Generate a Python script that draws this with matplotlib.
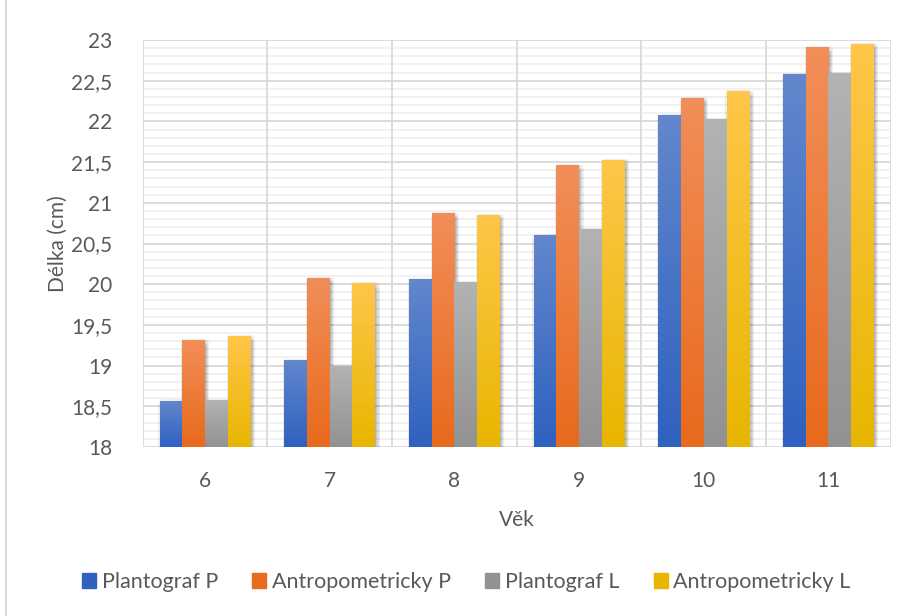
import numpy as np
import matplotlib.pyplot as plt
import matplotlib.patheffects as pe
from matplotlib.colors import to_rgb
from matplotlib.lines import Line2D

# ages and measured foot lengths (cm)
ages = ["6", "7", "8", "9", "10", "11"]
plantograf_p = [18.57, 19.07, 20.06, 20.60, 22.08, 22.58]
antropometricky_p = [19.31, 20.08, 20.87, 21.46, 22.29, 22.91]
plantograf_l = [18.58, 19.00, 20.03, 20.68, 22.03, 22.59]
antropometricky_l = [19.36, 20.01, 20.85, 21.53, 22.37, 22.95]

series_names = ["Plantograf P", "Antropometricky P", "Plantograf L", "Antropometricky L"]
series_values = [plantograf_p, antropometricky_p, plantograf_l, antropometricky_l]
# (top colour, bottom colour) of each gradient fill
series_colors = [("#6287cc", "#2f61c0"), ("#f28e59", "#e86a1c"),
                 ("#b3b3b3", "#929292"), ("#ffc649", "#e8b600")]

y_min, y_max = 18, 23
text_col = "#595959"
grid_col = "#d9d9d9"
fs = 15
plt.rcParams['font.family'] = ['Lato', 'DejaVu Sans']

fig = plt.figure(figsize=(9.09, 6.16), dpi=100)
ax = fig.add_axes([0.157, 0.2744, 0.823, 0.6606])

x = np.arange(len(ages))
group_w = 0.73
bar_w = group_w / len(series_values)

# soft drop shadow made of several faint offset copies
shadow = [pe.SimplePatchShadow(offset=(dx, dy), shadow_rgbFace='k', alpha=0.012)
          for dx in np.arange(-0.8, 3.3, 0.8) for dy in np.arange(-3.2, 0.9, 0.8)]

handles = []
for i, (vals, (c_top, c_bot)) in enumerate(zip(series_values, series_colors)):
    pos = x - group_w / 2 + bar_w * (i + 0.5)
    heights = np.array(vals) - y_min
    bars = ax.bar(pos, heights, bar_w, bottom=y_min, color=c_bot, linewidth=0,
                  zorder=2, path_effects=shadow + [pe.Normal()])
    grad = np.linspace(to_rgb(c_top), to_rgb(c_bot), 128)[:, None, :]
    for b in bars:
        x0, w = b.get_x(), b.get_width()
        im = ax.imshow(grad, extent=(x0, x0 + w, y_min, b.get_y() + b.get_height()),
                       aspect='auto', origin='upper', zorder=3, interpolation='bilinear')
        im.set_clip_path(b)
    handles.append(plt.Rectangle((0, 0), 1, 1, color=c_bot))

ax.set_xlim(-0.5, len(ages) - 0.5)
ax.set_ylim(y_min, y_max)

# gridlines: minor every 0.1, major every 0.5, vertical between ages
for v in np.arange(y_min, y_max + 0.001, 0.1):
    major = abs(v * 2 - round(v * 2)) < 1e-6
    ax.axhline(v, color=grid_col if major else "#efefef", lw=1.3 if major else 1.2,
               zorder=0.5 if not major else 1)
for v in np.arange(-0.5, len(ages), 1.0):
    ax.axvline(v, color=grid_col, lw=1.3, zorder=1)

for s in ax.spines.values():
    s.set_visible(False)

ticks = np.arange(y_min, y_max + 0.001, 0.5)
ax.set_yticks(ticks)
ax.set_yticklabels([f"{t:g}".replace(".", ",") for t in ticks])
ax.set_xticks(x)
ax.set_xticklabels(ages)
ax.tick_params(length=0, labelsize=fs, colors=text_col)
ax.tick_params(axis='y', pad=22)
ax.tick_params(axis='x', pad=17)

ax.set_xlabel("Věk", fontsize=fs, color=text_col, labelpad=14)
ax.set_ylabel("Délka (cm)", fontsize=fs, color=text_col, labelpad=2)

fig.legend(handles, series_names, loc='center', bbox_to_anchor=(0.513, 0.055), ncol=4,
           frameon=False, fontsize=15.5, labelcolor=text_col, handlelength=0.65,
           handleheight=0.7, handletextpad=0.25, columnspacing=1.6)

# outer chart border on the left
fig.add_artist(Line2D([0.007, 0.007], [0, 1], color=grid_col, lw=1.5))

fig.savefig("out.png", dpi=100)
